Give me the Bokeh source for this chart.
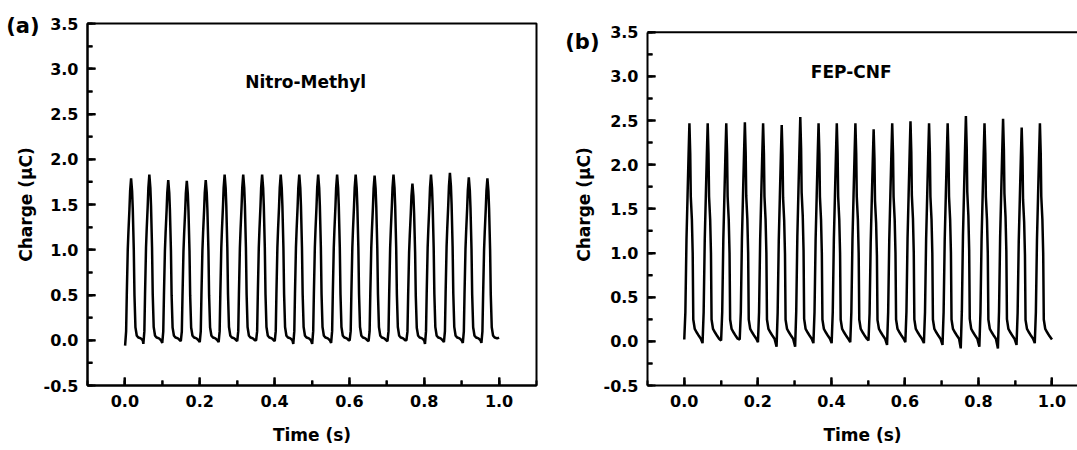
from bokeh.plotting import figure
from bokeh.layouts import row
from bokeh.models import (Range1d, SingleIntervalTicker, FixedTicker, NumeralTickFormatter,
                          CustomJSTickFormatter, Label, Span, LinearAxis)
from bokeh.embed import file_html
from bokeh.resources import INLINE

# ---------------- data ----------------
x_label = "Time (s)"
y_label = "Charge (\u03bcC)"
panel_labels = ["(a)", "(b)"]
titles = ["Nitro-Methyl", "FEP-CNF"]

x_major_ticks = [0.0, 0.2, 0.4, 0.6, 0.8, 1.0]
x_minor_ticks = [0.1, 0.3, 0.5, 0.7, 0.9]
y_major_ticks = [0.0, 0.5, 1.0, 1.5, 2.0, 2.5, 3.0, 3.5]
y_minor_ticks = [-0.25, 0.25, 0.75, 1.25, 1.75, 2.25, 2.75, 3.25]

# Panel (a): Nitro-Methyl
peak_times_a = [0.0165, 0.0653, 0.1158, 0.1654, 0.2160, 0.2665, 0.3162, 0.3667, 0.4164, 0.4660,
                0.5165, 0.5671, 0.6167, 0.6673, 0.7178, 0.7684, 0.8180, 0.8686, 0.9191, 0.9688]
peaks_a = [1.79, 1.83, 1.77, 1.76, 1.77, 1.83, 1.83, 1.83, 1.83, 1.83,
           1.83, 1.83, 1.83, 1.82, 1.83, 1.73, 1.83, 1.85, 1.80, 1.79]
dips_a = [-0.06, -0.04, -0.03, -0.01, -0.02, -0.02, -0.01, 0.00, -0.01, -0.04,
          -0.04, -0.03, 0.00, -0.01, -0.01, 0.00, -0.04, -0.02, -0.03, -0.03]
end_a = 0.03
rise_a = 0.016
body_dt_a = [-0.0133, -0.0115, -0.0089, -0.0071, -0.0044, -0.0026, 0.0, 0.0027, 0.0045, 0.0072, 0.0090, 0.0116]
body_frac_a = [0.055, 0.28, 0.56, 0.67, 0.81, 0.92, 1.0, 0.92, 0.81, 0.56, 0.28, 0.08]
tail_dt_a = [0.0152, 0.0197, 0.0259, 0.0312]
tail_val_a = [0.05, 0.03, 0.02, 0.00]

# Panel (b): FEP-CNF
peak_times_b = [0.0140, 0.0637, 0.1142, 0.1648, 0.2144, 0.2650, 0.3155, 0.3652, 0.4148, 0.4654,
                0.5150, 0.5655, 0.6152, 0.6657, 0.7163, 0.7659, 0.8165, 0.8670, 0.9176, 0.9672]
peaks_b = [2.47, 2.47, 2.47, 2.48, 2.47, 2.45, 2.54, 2.47, 2.47, 2.47,
           2.40, 2.47, 2.49, 2.47, 2.47, 2.55, 2.47, 2.52, 2.42, 2.47]
dips_b = [0.02, -0.02, 0.01, 0.02, -0.01, -0.06, -0.06, -0.02, -0.02, -0.01,
          0.01, -0.04, -0.01, -0.02, -0.04, -0.08, -0.06, -0.08, -0.04, -0.02]
end_b = 0.02
rise_b = 0.014
body_dt_b = [-0.0110, -0.0080, -0.0051, -0.0022, 0.0, 0.0022, 0.0037, 0.0067, 0.0089, 0.0105]
body_frac_b = [0.134, 0.466, 0.664, 0.862, 1.0, 0.862, 0.664, 0.559, 0.405, 0.10]
tail_dt_b = [0.0145, 0.0200, 0.0260, 0.0310]
tail_val_b = [0.14, 0.10, 0.06, 0.03]


def build(peak_times, peaks, dips, end_val, rise, body_dt, body_frac, tail_dt, tail_val):
    t, y = [], []
    for pt, pk, dp in zip(peak_times, peaks, dips):
        t.append(max(pt - rise, 0.0))
        y.append(dp)
        for dt, f in zip(body_dt, body_frac):
            t.append(pt + dt)
            y.append(f * pk)
        for dt, v in zip(tail_dt, tail_val):
            if pt + dt < 0.998:
                t.append(pt + dt)
                y.append(v)
    t.append(1.0)
    y.append(end_val)
    return t, y


FONT = "DejaVu Sans"
TICK_SIZE = "16px"
LABEL_SIZE = "17px"
HEIGHT = 450
B_TOP, B_BOTTOM = 23, 65
MAJOR_LEN, MINOR_LEN = 8, 5


def make_panel(width, bl, br, x_end, y_top, letter, letter_y, ylab_standoff, outline):
    p = figure(width=width, height=HEIGHT,
               x_range=Range1d(-0.1, x_end), y_range=Range1d(-0.5, y_top),
               output_backend="svg", toolbar_location=None,
               min_border_left=bl, min_border_right=br, min_border_top=B_TOP, min_border_bottom=B_BOTTOM,
               background_fill_color="white", border_fill_color="white")
    p.xgrid.visible = False
    p.ygrid.visible = False
    if outline:
        p.outline_line_color = "black"
        p.outline_line_width = 2
        p.outline_line_alpha = 1.0
    else:
        p.outline_line_color = None
        p.add_layout(Span(location=3.5, dimension="width", line_color="black", line_width=2))
    p.xaxis.ticker = SingleIntervalTicker(interval=0.2, num_minor_ticks=2)
    p.yaxis.ticker = SingleIntervalTicker(interval=0.5, num_minor_ticks=2)
    for ax in (p.xaxis, p.yaxis):
        ax.formatter = NumeralTickFormatter(format="0.0")
        ax.axis_line_width = 2
        ax.axis_line_color = "black"
        ax.major_tick_in = MAJOR_LEN
        ax.major_tick_out = 0
        ax.minor_tick_in = MINOR_LEN
        ax.minor_tick_out = 0
        ax.major_tick_line_width = 2
        ax.minor_tick_line_width = 2
        ax.major_tick_line_color = "black"
        ax.minor_tick_line_color = "black"
        ax.major_label_text_font = FONT
        ax.major_label_text_font_style = "bold"
        ax.major_label_text_font_size = TICK_SIZE
        ax.major_label_text_color = "black"
        ax.axis_label_text_font = FONT
        ax.axis_label_text_font_style = "bold"
        ax.axis_label_text_font_size = LABEL_SIZE
        ax.axis_label_text_color = "black"
    p.yaxis.bounds = (-0.5, 3.5)
    p.xaxis.axis_label = x_label
    p.xaxis.major_label_standoff = 9
    p.xaxis.axis_label_standoff = 15
    p.yaxis.major_label_standoff = 9

    # outer left axis carrying the panel letter and the y-axis title
    outer = LinearAxis(ticker=FixedTicker(ticks=[letter_y], minor_ticks=[]),
                       formatter=CustomJSTickFormatter(args=dict(lbl=letter), code="return lbl"),
                       axis_line_color=None, major_tick_line_color=None, minor_tick_line_color=None,
                       major_tick_in=0, major_tick_out=0, minor_tick_in=0, minor_tick_out=0,
                       major_label_standoff=1,
                       major_label_text_font=FONT, major_label_text_font_style="bold",
                       major_label_text_font_size="21px", major_label_text_color="black",
                       axis_label=y_label, axis_label_standoff=ylab_standoff,
                       axis_label_text_font=FONT, axis_label_text_font_style="bold",
                       axis_label_text_font_size=LABEL_SIZE, axis_label_text_color="black")
    p.add_layout(outer, "left")

    # inward tick marks drawn inside the frame, lengths converted with the frame scale
    frame_w = width - bl - br
    frame_h = HEIGHT - B_TOP - B_BOTTOM
    ux = (x_end + 0.1) / frame_w
    uy = (y_top + 0.5) / frame_h
    y0 = -0.5
    x0 = -0.1
    p.segment(x_major_ticks, [y0] * len(x_major_ticks), x_major_ticks,
              [y0 + MAJOR_LEN * uy] * len(x_major_ticks), line_color="black", line_width=2)
    p.segment(x_minor_ticks, [y0] * len(x_minor_ticks), x_minor_ticks,
              [y0 + MINOR_LEN * uy] * len(x_minor_ticks), line_color="black", line_width=2)
    p.segment([x0] * len(y_major_ticks), y_major_ticks, [x0 + MAJOR_LEN * ux] * len(y_major_ticks),
              y_major_ticks, line_color="black", line_width=2)
    p.segment([x0] * len(y_minor_ticks), y_minor_ticks, [x0 + MINOR_LEN * ux] * len(y_minor_ticks),
              y_minor_ticks, line_color="black", line_width=2)
    return p


pa = make_panel(545, 87, 9, 1.1, 3.5, panel_labels[0], 3.467, -33, True)
ta, ya = build(peak_times_a, peaks_a, dips_a, end_a, rise_a, body_dt_a, body_frac_a, tail_dt_a, tail_val_a)
pa.line(ta, ya, line_color="black", line_width=2.5)
pa.add_layout(Label(x=0.483, y=2.851, text=titles[0], text_font=FONT, text_font_style="bold",
                    text_font_size=LABEL_SIZE, text_align="center", text_baseline="middle", text_color="black"))

pb = make_panel(532, 102, 0, 1.0694, 3.5985, panel_labels[1], 3.387, -32, False)
tb, yb = build(peak_times_b, peaks_b, dips_b, end_b, rise_b, body_dt_b, body_frac_b, tail_dt_b, tail_val_b)
pb.line(tb, yb, line_color="black", line_width=2.5)
pb.add_layout(Label(x=0.454, y=3.055, text=titles[1], text_font=FONT, text_font_style="bold",
                    text_font_size=LABEL_SIZE, text_align="center", text_baseline="middle", text_color="black"))

layout = row(pa, pb)
open("out.html", "w").write(file_html(layout, INLINE))
